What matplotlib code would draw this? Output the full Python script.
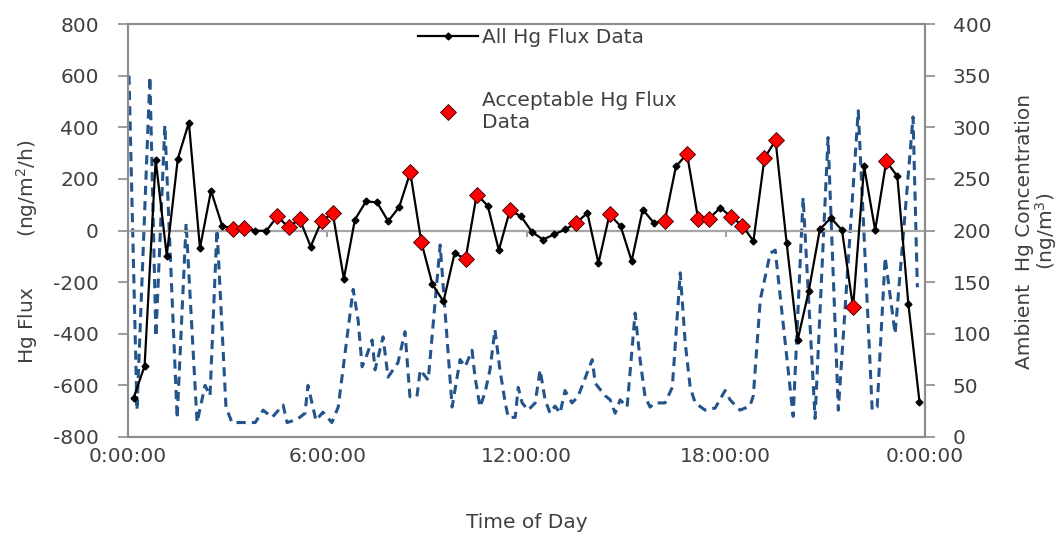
import numpy as np
import matplotlib.pyplot as plt

plt.rcParams['axes.unicode_minus'] = False

# Hg flux, one reading every 20 minutes starting at 00:10
flux_minutes = np.arange(10, 24 * 60, 20)
hg_flux = [-649, -525, 274, -97, 278, 418, -68, 154, 19, 6,
           10, -1, -1, 55, 12, 45, -62, 38, 66, -187,
           42, 113, 109, 36, 91, 225, -45, -208, -275, -89,
           -109, 139, 96, -76, 78, 55, -6, -35, -15, 4,
           30, 68, -127, 62, 17, -118, 81, 30, 38, 248,
           297, 46, 46, 88, 53, 19, -41, 281, 349, -48,
           -424, -234, 4, 49, 1, -298, 248, 1, 268, 210,
           -286, -663]
# readings that passed the QA checks
acceptable_idx = [9, 10, 13, 14, 15, 17, 18, 25, 26, 30, 31, 34,
                  40, 43, 48, 50, 51, 52, 54, 55, 57, 58, 65, 68]

# ambient Hg concentration (ng/m3)
amb_hours = [0.03, 0.27, 0.66, 0.84, 1.11, 1.48, 1.75, 2.08, 2.32, 2.47,
             2.68, 2.95, 3.13, 3.37, 3.83, 4.07, 4.34, 4.67, 4.79, 5.09,
             5.33, 5.42, 5.66, 5.87, 6.14, 6.33, 6.78, 6.93, 7.05, 7.20,
             7.35, 7.44, 7.68, 7.83, 8.13, 8.34, 8.49, 8.70, 8.80, 9.04,
             9.40, 9.76, 10.00, 10.15, 10.36, 10.45, 10.60, 10.75, 10.90, 11.05,
             11.20, 11.36, 11.45, 11.66, 11.75, 11.87, 12.05, 12.26, 12.41, 12.56,
             12.71, 12.86, 13.01, 13.16, 13.37, 13.55, 13.98, 14.07, 14.37, 14.52,
             14.67, 14.82, 15.03, 15.27, 15.42, 15.57, 15.72, 15.87, 16.17, 16.39,
             16.63, 16.78, 16.93, 17.08, 17.38, 17.68, 17.98, 18.13, 18.43, 18.73,
             18.83, 19.04, 19.34, 19.49, 20.03, 20.33, 20.69, 21.08, 21.39, 21.99,
             22.41, 22.56, 22.80, 23.10, 23.64, 23.77]
amb_conc = [350, 26, 349, 97, 302, 18, 207, 14, 50, 40,
            202, 29, 14, 14, 14, 26, 19, 31, 14, 17,
            23, 50, 16, 24, 14, 29, 143, 113, 68, 80,
            94, 65, 97, 58, 72, 102, 39, 39, 65, 55,
            186, 29, 75, 68, 84, 58, 29, 43, 65, 104,
            65, 33, 19, 19, 48, 33, 26, 33, 65, 36,
            23, 30, 23, 45, 33, 39, 75, 52, 40, 36,
            23, 36, 29, 120, 75, 39, 29, 33, 33, 48,
            159, 91, 48, 33, 26, 28, 45, 36, 26, 30,
            40, 133, 178, 181, 20, 232, 18, 290, 26, 316,
            26, 29, 174, 100, 310, 145]

tick_hours = [0, 6, 12, 18, 24]
tick_labels = ['0:00:00', '6:00:00', '12:00:00', '18:00:00', '0:00:00']

text_col = '#404040'
frame_col = '#8c8c8c'
fs = 14.5

flux_hours = flux_minutes / 60.0
hg_flux = np.array(hg_flux)

fig = plt.figure(figsize=(10.63, 5.35), dpi=100)
ax = fig.add_axes([128 / 1063, 1 - 437 / 535, (925 - 128) / 1063, (437 - 24) / 535])
ax2 = ax.twinx()
ax.set_zorder(ax2.get_zorder() + 1)
ax.patch.set_visible(False)

# ambient concentration on the right axis
ax2.plot(amb_hours, amb_conc, color='#24548c', lw=2.2, ls=(0, (3, 2)))
ax2.set_ylim(0, 400)
ax2.set_yticks(np.arange(0, 401, 50))

# flux on the left axis
ax.axhline(0, color='#a6a6a6', lw=1.6, zorder=1)
ax.plot(flux_hours, hg_flux, color='black', lw=1.6, marker='D', ms=3.5,
        label='All Hg Flux Data', zorder=3)
ax.plot(flux_hours[acceptable_idx], hg_flux[acceptable_idx], ls='none',
        marker='D', ms=8, mfc='red', mec='#300000', mew=0.6,
        label='Acceptable Hg Flux\nData', zorder=4)
ax.set_ylim(-800, 800)
ax.set_yticks(np.arange(-800, 801, 200))
ax.set_xlim(0, 24)
ax.set_xticks(tick_hours)
ax.set_xticklabels(tick_labels)
ax.tick_params(axis='x', length=0, pad=7, labelsize=fs, labelcolor=text_col)
ax.tick_params(axis='y', length=7, width=1.2, color=frame_col, pad=14,
               labelsize=fs, labelcolor=text_col)
ax2.tick_params(axis='y', length=7, width=1.2, color=frame_col, pad=13,
                labelsize=fs, labelcolor=text_col)

for a in (ax, ax2):
    for sp in a.spines.values():
        sp.set_color(frame_col)
        sp.set_linewidth(1.5)

# horizontal axis crossing at zero with small tick marks
mid = ax.secondary_xaxis(0.5)
mid.set_xticks(tick_hours)
mid.xaxis.set_ticks_position('bottom')
mid.set_xticklabels([])
mid.tick_params(length=4, width=1.2, color=frame_col, labelbottom=False,
                labeltop=False, direction='out')
mid.spines['bottom'].set_visible(False)
mid.spines['top'].set_visible(False)

ax.set_xlabel('Time of Day', fontsize=fs, color=text_col, labelpad=34)
fig.text(27 / 1063, 1 - 252 / 535, 'Hg Flux        (ng/m$^2$/h)', rotation=90,
         ha='center', va='center', fontsize=fs, color=text_col)
fig.text(1037 / 1063, 1 - 231 / 535, 'Ambient  Hg Concentration\n(ng/m$^3$)',
         rotation=90, ha='center', va='center', fontsize=fs, color=text_col,
         multialignment='center', linespacing=1.0)

leg = ax.legend(loc='upper left', bbox_to_anchor=(418 / 1063, 1 - 28 / 535),
                bbox_transform=fig.transFigure, frameon=False, fontsize=fs,
                handlelength=3.0, handletextpad=0.2, labelspacing=2.2,
                borderpad=0, borderaxespad=0)
for t in leg.get_texts():
    t.set_color(text_col)

fig.savefig('out.png', dpi=100)
